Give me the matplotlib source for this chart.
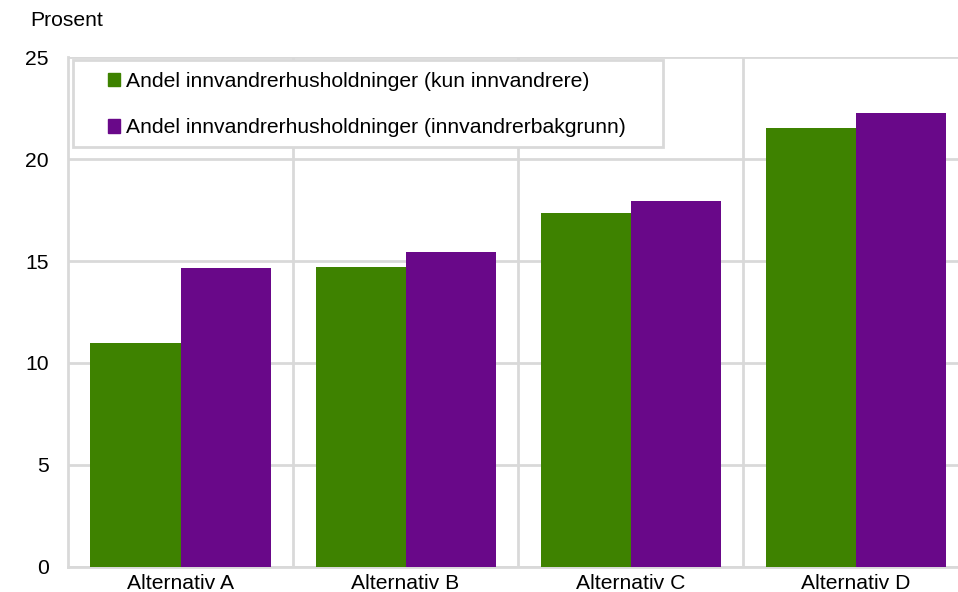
import matplotlib
matplotlib.use("Agg")
import matplotlib.pyplot as plt
from matplotlib.patches import Rectangle
import numpy as np

plt.rcParams['font.family'] = ['Liberation Sans', 'DejaVu Sans']

categories = ["Alternativ A", "Alternativ B", "Alternativ C", "Alternativ D"]
kun_innvandrere = [11.0, 14.7, 17.35, 21.55]
innvandrerbakgrunn = [14.65, 15.45, 17.95, 22.25]
series_labels = ["Andel innvandrerhusholdninger (kun innvandrere)",
                 "Andel innvandrerhusholdninger (innvandrerbakgrunn)"]
yticks = [0, 5, 10, 15, 20, 25]

green = "#3E8200"
purple = "#690889"
grid = "#D9D9D9"
FS = 15.2

fig = plt.figure(figsize=(9.58, 5.92), dpi=100)
ax = fig.add_axes([68/958, 25.3/592, 900/958, 509.4/592])

x = np.arange(len(categories))
w = 0.4
ax.bar(x - w/2, kun_innvandrere, w, color=green, zorder=3, label=series_labels[0])
ax.bar(x + w/2, innvandrerbakgrunn, w, color=purple, zorder=3, label=series_labels[1])

ax.set_xlim(-0.5, len(categories) - 0.5)
ax.set_ylim(0, 25)
ax.set_yticks(yticks)
ax.set_xticks(x)
ax.set_xticklabels(categories)
ax.set_xticks(np.arange(len(categories) - 1) + 0.5, minor=True)
ax.grid(axis='y', which='major', color=grid, lw=2, zorder=0)
ax.grid(axis='x', which='minor', color=grid, lw=2, zorder=0)
ax.tick_params(axis='both', which='both', length=0, labelsize=FS, colors='black')
ax.tick_params(axis='y', pad=14)
ax.tick_params(axis='x', pad=5)
for s in ['top', 'right']:
    ax.spines[s].set_visible(False)
for s in ['left', 'bottom']:
    ax.spines[s].set_color(grid)
    ax.spines[s].set_linewidth(2)

# legend frame
x0 = (73 - 68) / 900
x1 = (663 - 68) / 900
y1 = (566.7 - 60) / 509.4
y0 = (566.7 - 146.7) / 509.4
ax.add_patch(Rectangle((x0, y0), x1 - x0, y1 - y0, transform=ax.transAxes,
                       facecolor='white', edgecolor=grid, lw=2, zorder=4, clip_on=False))
handles = [Rectangle((0, 0), 1, 1, color=green), Rectangle((0, 0), 1, 1, color=purple)]
leg = ax.legend(handles, series_labels, loc='upper left',
                bbox_to_anchor=((108 - 68) / 900, (566.7 - 72) / 509.4),
                frameon=False, fontsize=FS, handlelength=0.58, handleheight=0.58,
                handletextpad=0.25, labelspacing=1.3, borderpad=0, borderaxespad=0)
leg.set_zorder(5)

fig.text(30/958, 1 - 20/592, "Prosent", fontsize=FS, va='center', ha='left')

fig.savefig("out.png", dpi=100)
